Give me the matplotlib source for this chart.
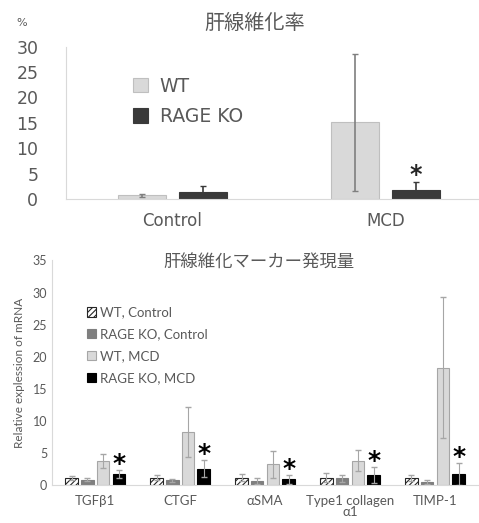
import matplotlib.pyplot as plt
import numpy as np

plt.rcParams['font.family'] = ['DejaVu Sans', 'Noto Sans CJK JP']
plt.rcParams['hatch.linewidth'] = 0.8

# top chart: fibrosis rate (%)
fib_groups = ['Control', 'MCD']
fib_wt = [0.75, 15.1]
fib_wt_err = [0.3, 13.5]
fib_ko = [1.5, 1.9]
fib_ko_err = [1.1, 1.5]

# bottom chart: fibrosis marker expression
markers = ['TGFβ1', 'CTGF', 'αSMA', 'Type1 collagen\nα1', 'TIMP-1']
wt_ctrl = [1.1, 1.1, 1.1, 1.1, 1.1]
wt_ctrl_err = [0.35, 0.4, 0.55, 0.7, 0.45]
ko_ctrl = [0.8, 0.7, 0.6, 1.0, 0.5]
ko_ctrl_err = [0.2, 0.25, 0.4, 0.55, 0.3]
wt_mcd = [3.65, 8.3, 3.2, 3.75, 18.3]
wt_mcd_err = [1.1, 3.9, 2.1, 1.65, 11.0]
ko_mcd = [1.7, 2.5, 0.85, 1.55, 1.65]
ko_mcd_err = [0.6, 1.35, 0.65, 1.2, 1.7]

tick_col = '#595959'
spine_col = '#d9d9d9'

fig = plt.figure(figsize=(4.79, 5.23), dpi=100)

# ---------- top chart ----------
ax1 = fig.add_axes([0.138, 0.619, 0.862, 0.292])
x = np.arange(len(fib_groups))
w = 0.225
off = (w + 0.06) / 2
ax1.bar(x - off, fib_wt, w, color='#d9d9d9', edgecolor='#bfbfbf', lw=0.8, label='WT')
ax1.bar(x + off, fib_ko, w, color='#3a3a3a', edgecolor='#3a3a3a', lw=0.8, label='RAGE KO')
ax1.errorbar(x - off, fib_wt, yerr=fib_wt_err, fmt='none', ecolor='#7f7f7f', elinewidth=1.2, capsize=2)
ax1.errorbar(x + off, fib_ko, yerr=fib_ko_err, fmt='none', ecolor='#3a3a3a', elinewidth=1.2, capsize=2)
ax1.text(1 + off, fib_ko[1] + fib_ko_err[1] - 0.9, '*', ha='center', va='bottom',
         fontsize=17, fontweight='bold', color='#262626')
ax1.set_xlim(-0.497, 1.438)
ax1.set_ylim(0, 30)
ax1.set_yticks([0, 5, 10, 15, 20, 25, 30])
ax1.set_xticks(x)
ax1.set_xticklabels(fib_groups)
ax1.tick_params(axis='both', length=0, colors=tick_col, labelsize=12.5)
ax1.tick_params(axis='x', pad=9, labelsize=12)
ax1.tick_params(axis='y', pad=20)
for s in ['top', 'right']:
    ax1.spines[s].set_visible(False)
ax1.spines['left'].set_color(spine_col)
ax1.spines['bottom'].set_color(spine_col)
ax1.legend(loc='upper left', bbox_to_anchor=(0.14, 0.865), frameon=False, fontsize=13.5,
           handlelength=0.8, handleheight=0.8, handletextpad=0.6, labelspacing=0.62,
           labelcolor=tick_col, borderpad=0)
fig.text(0.532, 0.956, '肝線維化率', ha='center', va='center', fontsize=14.5,
         family=['Noto Sans CJK JP'], color=tick_col)
fig.text(0.046, 0.956, '%', ha='center', va='center', fontsize=8, color=tick_col)

# ---------- bottom chart ----------
lat = ['Lato', 'Noto Sans CJK JP', 'DejaVu Sans']
ax2 = fig.add_axes([0.109, 0.073, 0.891, 0.429])
xm = np.arange(len(markers))
bw = 0.147
pitch = 0.185
pos = [xm - 1.5 * pitch, xm - 0.5 * pitch, xm + 0.5 * pitch, xm + 1.5 * pitch]
ax2.bar(pos[0], wt_ctrl, bw, color='white', edgecolor='#262626', hatch='//////', lw=0.8, label='WT, Control')
ax2.bar(pos[1], ko_ctrl, bw, color='#7f7f7f', edgecolor='#7f7f7f', lw=0.8, label='RAGE KO, Control')
ax2.bar(pos[2], wt_mcd, bw, color='#d9d9d9', edgecolor='#a6a6a6', lw=0.8, label='WT, MCD')
ax2.bar(pos[3], ko_mcd, bw, color='black', edgecolor='black', lw=0.8, label='RAGE KO, MCD')
for p, v, e in zip(pos, [wt_ctrl, ko_ctrl, wt_mcd, ko_mcd],
                   [wt_ctrl_err, ko_ctrl_err, wt_mcd_err, ko_mcd_err]):
    ax2.errorbar(p, v, yerr=e, fmt='none', ecolor='#a6a6a6', elinewidth=0.8, capsize=2)
for px, v, e in zip(pos[3], ko_mcd, ko_mcd_err):
    ax2.text(px, v + e - 0.9, '*', ha='center', va='bottom', fontsize=18,
             fontweight='bold', color='black')
ax2.set_xlim(-0.506, 4.518)
ax2.set_ylim(0, 35)
ax2.set_yticks([0, 5, 10, 15, 20, 25, 30, 35])
ax2.set_xticks(xm)
ax2.set_xticklabels(markers, family=lat, linespacing=0.95)
ax2.tick_params(axis='both', length=0, colors=tick_col, labelsize=9)
ax2.tick_params(axis='x', pad=7, labelsize=9.5)
for lbl in ax2.get_yticklabels():
    lbl.set_family(lat)
ax2.set_ylabel('Relative explession of mRNA', fontsize=8.5, color=tick_col, family=lat, labelpad=6)
for s in ['top', 'right']:
    ax2.spines[s].set_visible(False)
ax2.spines['left'].set_color(spine_col)
ax2.spines['bottom'].set_color(spine_col)
ax2.legend(loc='upper left', bbox_to_anchor=(0.065, 0.825), frameon=False,
           prop={'family': lat, 'size': 9.5}, handlelength=0.75, handleheight=0.75,
           handletextpad=0.25, labelspacing=0.75, labelcolor=tick_col, borderpad=0)
fig.text(0.54, 0.497, '肝線維化マーカー発現量', ha='center', va='center', fontsize=12.5,
         family=['Noto Sans CJK JP'], color=tick_col)

fig.savefig('out.png', dpi=100)
